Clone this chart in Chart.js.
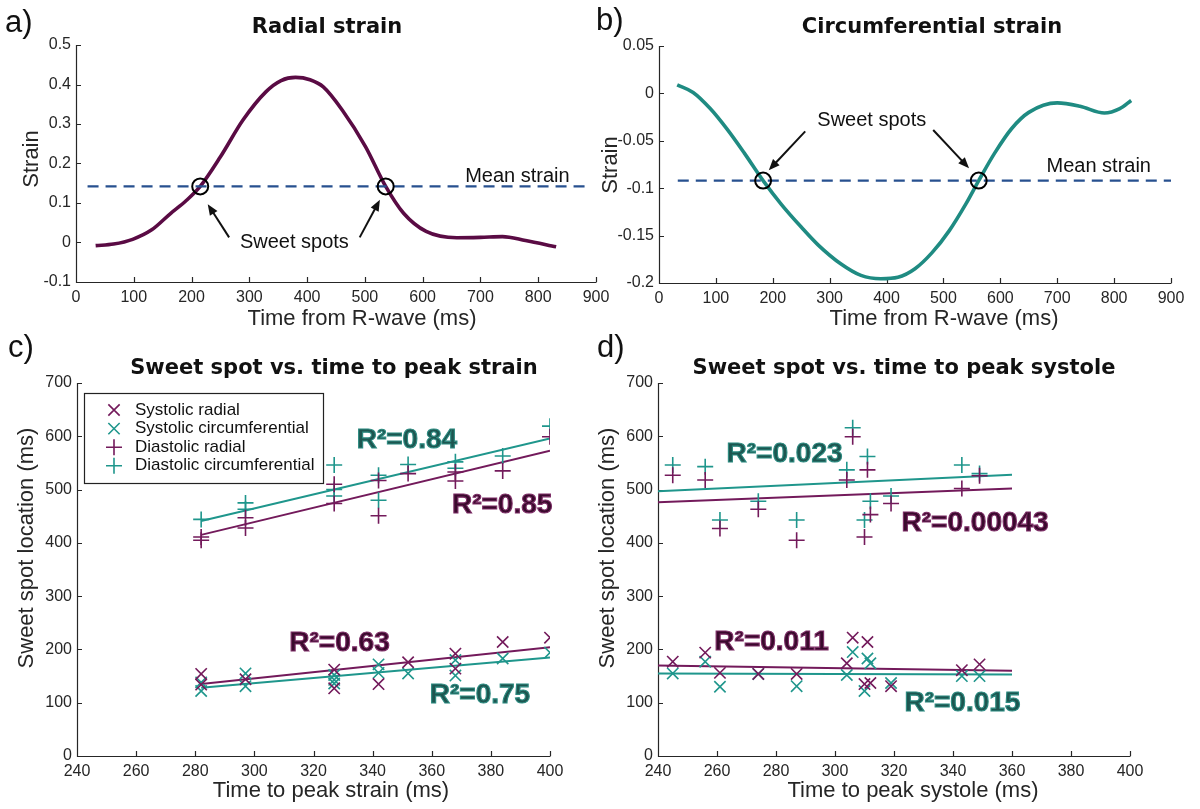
<!DOCTYPE html>
<html>
<head>
<meta charset="utf-8">
<script src="https://cdn.jsdelivr.net/npm/chart.js@4.4.1/dist/chart.umd.min.js"></script>
<style>
  html, body { margin: 0; padding: 0; background: #fff; }
  body { width: 1200px; height: 809px; position: relative; overflow: hidden; }
  canvas { position: absolute; }
</style>
</head>
<body>
<canvas id="cA" width="620" height="335" style="left:0;top:0"></canvas>
<canvas id="cB" width="610" height="335" style="left:590px;top:0"></canvas>
<canvas id="cC" width="600" height="499" style="left:0;top:310px"></canvas>
<canvas id="cD" width="610" height="499" style="left:590px;top:310px"></canvas>
<script>
// ---- a) radial strain over the cycle ----
const timeRadial   = [34, 65, 98, 131, 164, 190, 215, 250, 289, 329, 355, 380, 405, 428, 461, 501, 536, 567, 606, 659, 700, 738, 778, 831];
const strainRadial = [-0.008, -0.004, 0.008, 0.032, 0.074, 0.105, 0.142, 0.217, 0.310, 0.382, 0.410, 0.418, 0.412, 0.394, 0.335, 0.243, 0.142, 0.074, 0.028, 0.012, 0.013, 0.015, 0.005, -0.011];
const meanRadial   = 0.142;
const meanSpanA    = [20, 890];
const sweetRadialX = [215, 536];

// ---- b) circumferential strain over the cycle ----
const timeCirc   = [32, 60, 90, 120, 150, 183, 215, 250, 280, 320, 355, 390, 420, 450, 480, 510, 540, 562, 590, 620, 650, 700, 740, 783, 810, 830];
const strainCirc = [0.009, 0.001, -0.016, -0.038, -0.063, -0.092, -0.117, -0.141, -0.160, -0.180, -0.192, -0.1955, -0.194, -0.185, -0.168, -0.145, -0.116, -0.092, -0.063, -0.037, -0.020, -0.010, -0.0135, -0.0207, -0.016, -0.0074];
const meanCirc   = -0.092;
const meanSpanB  = [33, 900];
const sweetCircX = [183, 562];

// ---- c) sweet spot vs. time to peak strain ----
const sysRadC_x  = [282, 282, 297, 327, 327, 342, 352, 368, 368, 384, 400];
const sysRadC_y  = [154, 134, 144, 162, 127, 135, 176, 192, 164, 214, 222];
const sysCircC_x = [282, 282, 297, 297, 327, 327, 327, 342, 342, 352, 368, 368, 384, 400];
const sysCircC_y = [138, 122, 155, 131, 152, 143, 136, 172, 156, 155, 180, 151, 183, 194];
const diaRadC_x  = [282, 282, 297, 297, 327, 327, 342, 342, 352, 368, 368, 384, 400];
const diaRadC_y  = [411, 405, 447, 428, 510, 474, 517, 451, 530, 533, 516, 535, 599];
const diaCircC_x = [282, 297, 297, 327, 327, 327, 342, 342, 352, 368, 368, 384, 400];
const diaCircC_y = [444, 475, 463, 546, 500, 488, 527, 480, 547, 552, 540, 563, 619];
const fitXC       = [282, 400];
const fitSysRadC  = [135, 204];
const fitSysCircC = [128, 185];
const fitDiaRadC  = [415, 573];
const fitDiaCircC = [441, 596];

// ---- d) sweet spot vs. time to peak systole ----
const peakSystole = [245, 256, 261, 274, 287, 304, 306, 310, 311, 312, 319, 343, 349];
const sysRadD     = [177, 194, 156, 154, 154, 174, 222, 135, 214, 137, 131, 161, 172];
const sysCircD    = [155, 177, 130, 154, 131, 152, 195, 122, 183, 174, 137, 150, 150];
const diaRadD     = [527, 518, 427, 463, 405, 518, 599, 411, 537, 453, 474, 502, 526];
const diaCircD    = [546, 543, 443, 478, 443, 537, 616, 443, 562, 478, 488, 546, 530];
const fitXD       = [240, 360];
const fitSysRadD  = [170, 160];
const fitSysCircD = [155, 153];
const fitDiaRadD  = [476, 502];
const fitDiaCircD = [497, 528];

// ---- ticks ----
const timeTicks    = [0, 100, 200, 300, 400, 500, 600, 700, 800, 900];
const timeLabels   = ['0', '100', '200', '300', '400', '500', '600', '700', '800', '900'];
const strainTicksA = [-0.1, 0, 0.1, 0.2, 0.3, 0.4, 0.5];
const strainLabelsA = ['-0.1', '0', '0.1', '0.2', '0.3', '0.4', '0.5'];
const strainTicksB = [-0.2, -0.15, -0.1, -0.05, 0, 0.05];
const strainLabelsB = ['-0.2', '-0.15', '-0.1', '-0.05', '0', '0.05'];
const spotTicks    = [0, 100, 200, 300, 400, 500, 600, 700];
const spotLabels   = ['0', '100', '200', '300', '400', '500', '600', '700'];
const peakTicks    = [240, 260, 280, 300, 320, 340, 360, 380, 400];
const peakLabels   = ['240', '260', '280', '300', '320', '340', '360', '380', '400'];

// ---- styles ----
const INK = '#262626';
const PURPLE = '#731a5b', TEAL = '#1f968c';
const CURVE_A = '#5a0b44', CURVE_B = '#1f8b82', MEAN = '#27508f';
const FONT = '"Liberation Sans", Arial, sans-serif';
const R2_TEAL = { fill: '#1d5650', stroke: '#2c8b81' };
const R2_PURPLE = { fill: '#3a0a2d', stroke: '#7d2d66' };

const pts = (xs, ys) => xs.map((x, i) => ({ x, y: ys[i] }));

function axis(min, max, ticks, labels, size, horizontal) {
  return {
    type: 'linear', min, max,
    grid: { display: false, drawTicks: false },
    border: { display: false },
    afterBuildTicks: s => { s.ticks = ticks.map(v => ({ value: v })); },
    afterFit: s => { if (horizontal) s.height = size; else s.width = size; },
    ticks: {
      autoSkip: false, maxRotation: 0, padding: horizontal ? 6 : 5, color: INK,
      font: { family: FONT, size: 16 },
      callback: (v, i) => labels[i]
    }
  };
}

function drawCross(ctx, x, y, r, rot) {
  ctx.beginPath();
  if (rot) {
    const d = r * Math.SQRT1_2;
    ctx.moveTo(x - d, y - d); ctx.lineTo(x + d, y + d);
    ctx.moveTo(x - d, y + d); ctx.lineTo(x + d, y - d);
  } else {
    ctx.moveTo(x - r, y); ctx.lineTo(x + r, y);
    ctx.moveTo(x, y - r); ctx.lineTo(x, y + r);
  }
  ctx.stroke();
}

function text(ctx, s, x, y, font, color, rot, stroke) {
  ctx.save();
  ctx.translate(x, y);
  if (rot) ctx.rotate(rot);
  ctx.font = font;
  ctx.textAlign = 'center';
  ctx.textBaseline = 'middle';
  ctx.fillStyle = color;
  ctx.fillText(s, 0, 0);
  if (stroke) { ctx.lineWidth = 1.1; ctx.strokeStyle = stroke; ctx.strokeText(s, 0, 0); }
  ctx.restore();
}

// axes (left + bottom, inward ticks), titles, notes, arrows and legend
const panelDeco = {
  id: 'deco',
  beforeDatasetsDraw(chart) {
    const { ctx, chartArea: a, scales: { x, y } } = chart;
    ctx.save();
    ctx.strokeStyle = INK;
    ctx.lineWidth = 1.2;
    ctx.beginPath();
    ctx.moveTo(a.left + 0.5, a.top);
    ctx.lineTo(a.left + 0.5, a.bottom + 0.5);
    ctx.lineTo(a.right + 0.5, a.bottom + 0.5);
    x.ticks.forEach(t => {
      const p = Math.round(x.getPixelForValue(t.value)) + 0.5;
      ctx.moveTo(p, a.bottom); ctx.lineTo(p, a.bottom - 5);
    });
    y.ticks.forEach(t => {
      const p = Math.round(y.getPixelForValue(t.value)) + 0.5;
      ctx.moveTo(a.left, p); ctx.lineTo(a.left + 5, p);
    });
    ctx.stroke();
    ctx.restore();
  },
  afterDatasetsDraw(chart, args, o) {
    const { ctx, chartArea: a, scales: { x, y } } = chart;
    // panel letter
    ctx.save();
    ctx.font = '31px ' + FONT;
    ctx.fillStyle = '#111';
    ctx.textAlign = 'left';
    ctx.textBaseline = 'alphabetic';
    ctx.fillText(o.letter[0], o.letter[1], o.letter[2]);
    ctx.restore();
    text(ctx, o.title[0], o.title[1], o.title[2], 'bold 21px "DejaVu Sans", ' + FONT, '#111');
    text(ctx, o.xTitle[0], o.xTitle[1], o.xTitle[2], '22px ' + FONT, INK);
    text(ctx, o.yTitle[0], o.yTitle[1], o.yTitle[2], '22px ' + FONT, INK, -Math.PI / 2);

    (o.notes || []).forEach(n => {
      text(ctx, n.text, x.getPixelForValue(n.x), y.getPixelForValue(n.y),
        n.big ? 'bold 28px ' + FONT : '20px ' + FONT,
        n.style ? n.style.fill : '#111', 0, n.style ? n.style.stroke : null);
    });

    (o.arrows || []).forEach(ar => {
      const x1 = x.getPixelForValue(ar.from[0]), y1 = y.getPixelForValue(ar.from[1]);
      const x2 = x.getPixelForValue(ar.to[0]), y2 = y.getPixelForValue(ar.to[1]);
      const ang = Math.atan2(y2 - y1, x2 - x1), L = 11, W = 4.5;
      ctx.save();
      ctx.strokeStyle = '#111'; ctx.fillStyle = '#111'; ctx.lineWidth = 2;
      ctx.beginPath();
      ctx.moveTo(x1, y1);
      ctx.lineTo(x2 - Math.cos(ang) * L * 0.8, y2 - Math.sin(ang) * L * 0.8);
      ctx.stroke();
      ctx.beginPath();
      ctx.moveTo(x2, y2);
      ctx.lineTo(x2 - Math.cos(ang) * L + Math.sin(ang) * W, y2 - Math.sin(ang) * L - Math.cos(ang) * W);
      ctx.lineTo(x2 - Math.cos(ang) * L - Math.sin(ang) * W, y2 - Math.sin(ang) * L + Math.cos(ang) * W);
      ctx.closePath();
      ctx.fill();
      ctx.restore();
    });

    if (o.legend) {
      const L = o.legend;
      const bx = a.left + L.dx, by = a.top + L.dy;
      ctx.save();
      ctx.fillStyle = '#fff';
      ctx.fillRect(bx, by, L.w, L.h);
      ctx.strokeStyle = '#222'; ctx.lineWidth = 1.2;
      ctx.strokeRect(bx + 0.5, by + 0.5, L.w, L.h);
      L.items.forEach((di, k) => {
        const ds = chart.data.datasets[di];
        const ry = by + L.row0 + k * L.rowGap;
        ctx.strokeStyle = ds.borderColor; ctx.lineWidth = ds.borderWidth;
        drawCross(ctx, bx + 30, ry, 8, ds.pointStyle === 'crossRot');
        ctx.fillStyle = '#111';
        ctx.font = '17px ' + FONT;
        ctx.textAlign = 'left'; ctx.textBaseline = 'middle';
        ctx.fillText(ds.label, bx + 51, ry);
      });
      ctx.restore();
    }
  }
};

function markers(label, xs, ys, color, style) {
  return { label, data: pts(xs, ys), pointStyle: style, pointRadius: 8, borderColor: color,
           backgroundColor: color, borderWidth: 1.6, showLine: false };
}
function fitLine(xs, ys, color) {
  return { label: 'fit', data: pts(xs, ys), showLine: true, borderColor: color, borderWidth: 2, pointRadius: 0 };
}
function curvePanel(spotsX, mean, span, tx, ty, color) {
  return [
    { label: 'sweet', data: spotsX.map(v => ({ x: v, y: mean })), pointStyle: 'circle', pointRadius: 8,
      borderColor: '#000', borderWidth: 2, backgroundColor: 'rgba(0,0,0,0)', showLine: false },
    { label: 'mean', data: span.map(v => ({ x: v, y: mean })), showLine: true, borderColor: MEAN,
      borderWidth: 2.2, borderDash: [11, 7], pointRadius: 0 },
    { label: 'strain', data: pts(tx, ty), showLine: true, borderColor: color, borderWidth: 3.6,
      pointRadius: 0, cubicInterpolationMode: 'monotone' }
  ];
}

function build(id, datasets, xs, ys, padding, deco) {
  return new Chart(document.getElementById(id), {
    type: 'scatter',
    data: { datasets },
    options: {
      responsive: false, animation: false, devicePixelRatio: 1, events: [],
      layout: { padding },
      plugins: { legend: { display: false }, tooltip: { enabled: false }, deco },
      scales: { x: xs, y: ys }
    },
    plugins: [panelDeco]
  });
}

function init() {
  build('cA', curvePanel(sweetRadialX, meanRadial, meanSpanA, timeRadial, strainRadial, CURVE_A),
    axis(0, 900, timeTicks, timeLabels, 53, true),
    axis(-0.1, 0.5, strainTicksA, strainLabelsA, 76, false),
    { left: 0, right: 24, top: 45, bottom: 0 },
    {
      letter: ['a)', 5, 32], title: ['Radial strain', 327, 28],
      xTitle: ['Time from R-wave (ms)', 362, 319], yTitle: ['Strain', 32, 159],
      notes: [{ text: 'Mean strain', x: 764, y: 0.168 }, { text: 'Sweet spots', x: 378, y: 0.0 }],
      arrows: [{ from: [265, 0.013], to: [228, 0.097] }, { from: [491, 0.013], to: [526, 0.108] }]
    });

  build('cB', curvePanel(sweetCircX, meanCirc, meanSpanB, timeCirc, strainCirc, CURVE_B),
    axis(0, 900, timeTicks, timeLabels, 52, true),
    axis(-0.2, 0.05, strainTicksB, strainLabelsB, 69, false),
    { left: 0, right: 29, top: 46, bottom: 0 },
    {
      letter: ['b)', 6, 30], title: ['Circumferential strain', 342, 28],
      xTitle: ['Time from R-wave (ms)', 354, 319], yTitle: ['Strain', 21, 165],
      notes: [{ text: 'Sweet spots', x: 374, y: -0.0286 }, { text: 'Mean strain', x: 773, y: -0.0776 }],
      arrows: [{ from: [257, -0.040], to: [193, -0.081] }, { from: [482, -0.0386], to: [545, -0.079] }]
    });

  build('cC', [
      markers('Systolic radial', sysRadC_x, sysRadC_y, PURPLE, 'crossRot'),
      markers('Systolic circumferential', sysCircC_x, sysCircC_y, TEAL, 'crossRot'),
      markers('Diastolic radial', diaRadC_x, diaRadC_y, PURPLE, 'cross'),
      markers('Diastolic circumferential', diaCircC_x, diaCircC_y, TEAL, 'cross'),
      fitLine(fitXC, fitSysRadC, PURPLE), fitLine(fitXC, fitSysCircC, TEAL),
      fitLine(fitXC, fitDiaRadC, PURPLE), fitLine(fitXC, fitDiaCircC, TEAL)
    ],
    axis(240, 400, peakTicks, peakLabels, 53, true),
    axis(0, 700, spotTicks, spotLabels, 77, false),
    { left: 0, right: 50, top: 73, bottom: 0 },
    {
      letter: ['c)', 8, 47], title: ['Sweet spot vs. time to peak strain', 334, 59],
      xTitle: ['Time to peak strain (ms)', 331, 481], yTitle: ['Sweet spot location (ms)', 27, 238],
      notes: [
        { text: 'R²=0.84', x: 351.6, y: 593, big: true, style: R2_TEAL },
        { text: 'R²=0.85', x: 383.8, y: 471, big: true, style: R2_PURPLE },
        { text: 'R²=0.63', x: 328.8, y: 211, big: true, style: R2_PURPLE },
        { text: 'R²=0.75', x: 376.3, y: 114, big: true, style: R2_TEAL }
      ],
      legend: { dx: 7, dy: 10, w: 239, h: 90, row0: 17, rowGap: 18.6, items: [0, 1, 2, 3] }
    });

  build('cD', [
      markers('Systolic radial', peakSystole, sysRadD, PURPLE, 'crossRot'),
      markers('Systolic circumferential', peakSystole, sysCircD, TEAL, 'crossRot'),
      markers('Diastolic radial', peakSystole, diaRadD, PURPLE, 'cross'),
      markers('Diastolic circumferential', peakSystole, diaCircD, TEAL, 'cross'),
      fitLine(fitXD, fitSysRadD, PURPLE), fitLine(fitXD, fitSysCircD, TEAL),
      fitLine(fitXD, fitDiaRadD, PURPLE), fitLine(fitXD, fitDiaCircD, TEAL)
    ],
    axis(240, 400, peakTicks, peakLabels, 53, true),
    axis(0, 700, spotTicks, spotLabels, 68, false),
    { left: 0, right: 70, top: 73, bottom: 0 },
    {
      letter: ['d)', 7, 47], title: ['Sweet spot vs. time to peak systole', 314, 59],
      xTitle: ['Time to peak systole (ms)', 323, 481], yTitle: ['Sweet spot location (ms)', 18, 238],
      notes: [
        { text: 'R²=0.023', x: 282.9, y: 567, big: true, style: R2_TEAL },
        { text: 'R²=0.00043', x: 347.5, y: 436.5, big: true, style: R2_PURPLE },
        { text: 'R²=0.011', x: 278.5, y: 214, big: true, style: R2_PURPLE },
        { text: 'R²=0.015', x: 343.2, y: 98.4, big: true, style: R2_TEAL }
      ]
    });
}

if (document.readyState === 'loading') {
  document.addEventListener('DOMContentLoaded', init);
} else {
  init();
}
</script>
</body>
</html>
